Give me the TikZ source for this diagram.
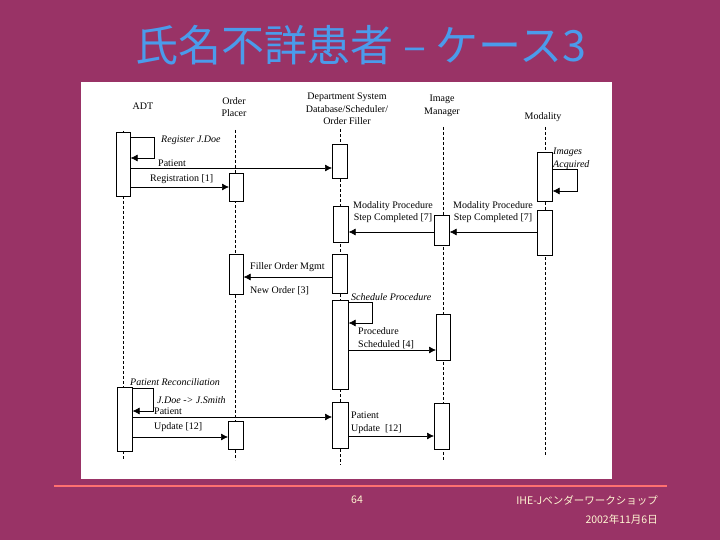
\documentclass[tikz,border=0pt]{standalone}
\usepackage{fontspec}
\setmainfont{Liberation Serif}
\newfontfamily\cjk{Noto Sans CJK JP}
\usetikzlibrary{arrows.meta}
\definecolor{bgpurple}{HTML}{993366}
\definecolor{titleblue}{HTML}{4B9BEB}
\definecolor{footline}{HTML}{FF7070}
\definecolor{foottext}{HTML}{FFF6D2}
\tikzset{
  actbox/.style={draw=black, fill=white, line width=0.6pt, inner sep=0pt, anchor=north west},
  msg/.style={line width=0.7pt, -{Latex[length=7pt,width=7pt]}},
  life/.style={line width=0.6pt, dash pattern=on 3pt off 2pt},
  lifethick/.style={line width=1.3pt, dash pattern=on 3pt off 2pt},
  lbl/.style={font=\fontsize{10}{12.5}\selectfont, inner sep=0pt, text=black},
  ilbl/.style={lbl, font=\fontsize{10}{12.5}\selectfont\itshape},
  hdr/.style={lbl, align=center},
}
\newcommand{\ActBox}[5]{\node[actbox, minimum width={(#4-#2)*1pt}, minimum height={(#5-#3)*1pt}] (#1) at (#2,#3) {};}
\begin{document}
\begin{tikzpicture}[x=1pt,y=-1pt]
\fill[bgpurple] (0,0) rectangle (720,540);
\useasboundingbox (0,0) rectangle (720,540);
% title
\node[text=titleblue, font=\cjk\fontsize{43}{46}\selectfont, inner sep=0pt] (title) at (361,45) {氏名不詳患者 – ケース3};
% white panel
\node[fill=white, draw=none, inner sep=0pt, anchor=north west, minimum width=531pt, minimum height=397pt] (panel) at (81,82) {};
% footer
\coordinate (fl1) at (54,486);
\coordinate (fl2) at (667,486);
\draw[footline, line width=1.2pt] (fl1) -- (fl2);
\node[text=foottext, font=\cjk\fontsize{10.5}{13}\selectfont, inner sep=0pt] (pg) at (357,500) {64};
\node[text=foottext, font=\cjk\fontsize{10.5}{13}\selectfont, inner sep=0pt, anchor=east] (ft1) at (658,500) {IHE-Jベンダーワークショップ};
\node[text=foottext, font=\cjk\fontsize{10.5}{13}\selectfont, inner sep=0pt, anchor=east] (ft2) at (658,519) {2002年11月6日};
% headers
\node[hdr] (hADT) at (143,106) {ADT};
\node[hdr] (hOP) at (234,107) {Order\\Placer};
\node[hdr] (hDSS) at (347,109) {Department System\\Database/Scheduler/\\Order Filler};
\node[hdr] (hIM) at (442,106) {Image\\Manager};
\node[hdr] (hMOD) at (543,117) {Modality};
% lifelines
\coordinate (adtT) at (123,131); \coordinate (adtB) at (123,459);
\coordinate (opT) at (235.5,130); \coordinate (opB) at (235.5,460);
\coordinate (dssT) at (340.5,129); \coordinate (dssB) at (340.5,465);
\coordinate (imT) at (443,127); \coordinate (imB) at (443,460);
\coordinate (modT) at (545,127); \coordinate (modB) at (545,456);
\draw[life] (adtT) -- (adtB);
\draw[life] (opT) -- (opB);
\draw[lifethick] (dssT) -- (dssB);
\draw[life] (imT) -- (imB);
\draw[life] (modT) -- (modB);
% activation boxes
\ActBox{adt1}{116}{132}{130}{196}
\ActBox{op1}{229}{173}{243}{201}
\ActBox{dss1}{332}{144}{347}{178}
\ActBox{mod1}{537}{152}{552}{201}
\ActBox{dss2}{333}{206}{348}{242}
\ActBox{im1}{434}{215}{449}{245}
\ActBox{mod2}{537}{210}{552}{255}
\ActBox{op2}{229}{254}{243}{294}
\ActBox{dss3}{332}{254}{347}{293}
\ActBox{dss4}{332}{300}{348}{389}
\ActBox{im2}{436}{314}{450}{360}
\ActBox{adt2}{117}{387}{132}{451}
\ActBox{op3}{228}{421}{243}{449}
\ActBox{dss5}{332}{402}{348}{448}
\ActBox{im3}{434}{403}{449}{449}
% messages
\draw[msg] (adt1.east |- 0,137) -- ++(24,0) -- ++(0,21) -- (adt1.east |- 0,158);
\node[ilbl, anchor=west] (lRegister) at (161,140) {Register J.Doe};
\draw[msg] (adt1.east |- 0,168) -- (dss1.west |- 0,168);
\node[lbl, anchor=west] (lPat1) at (158,163) {Patient};
\draw[msg] (adt1.east |- 0,187) -- (op1.west |- 0,187);
\node[lbl, anchor=west] (lReg1) at (150,179) {Registration [1]};
\draw[msg] (mod1.east |- 0,169) -- ++(25,0) -- ++(0,22) -- (mod1.east |- 0,191);
\node[ilbl, anchor=west, align=left] (lImg) at (553,159) {Images\\Acquired};
\draw[msg] (mod2.west |- 0,232) -- (im1.east |- 0,232);
\node[lbl, align=center] (lMps2) at (493,212) {Modality Procedure\\Step Completed [7]};
\draw[msg] (im1.west |- 0,232) -- (dss2.east |- 0,232);
\node[lbl, align=center] (lMps1) at (393,212) {Modality Procedure\\Step Completed [7]};
\draw[msg] (dss3.west |- 0,277) -- (op2.east |- 0,277);
\node[lbl, anchor=west] (lFom) at (250,267) {Filler Order Mgmt};
\node[lbl, anchor=west] (lNo) at (250,291) {New Order [3]};
\draw[msg] (dss4.east |- 0,302) -- ++(24,0) -- ++(0,21) -- (dss4.east |- 0,323);
\node[ilbl, anchor=west] (lSched) at (351,297) {Schedule Procedure};
\draw[msg] (dss4.east |- 0,350) -- (im2.west |- 0,350);
\node[lbl, anchor=west, align=left] (lPs) at (358,338) {Procedure\\Scheduled [4]};
\node[ilbl, anchor=west] (lRec) at (130,382) {Patient Reconciliation};
\draw[msg] (adt2.east |- 0,388) -- ++(21,0) -- ++(0,23) -- (adt2.east |- 0,411);
\node[ilbl, anchor=west] (lJd) at (157,400) {J.Doe -> J.Smith};
\draw[msg] (adt2.east |- 0,417) -- (dss5.west |- 0,417);
\node[lbl, anchor=west] (lPu1a) at (154,411) {Patient};
\node[lbl, anchor=west] (lPu1b) at (154,427) {Update [12]};
\draw[msg] (adt2.east |- 0,437) -- (op3.west |- 0,437);
\draw[msg] (dss5.east |- 0,436) -- (im3.west |- 0,436);
\node[lbl, anchor=west, align=left] (lPu2) at (351,423) {Patient\\Update~ [12]};
\end{tikzpicture}
\end{document}
